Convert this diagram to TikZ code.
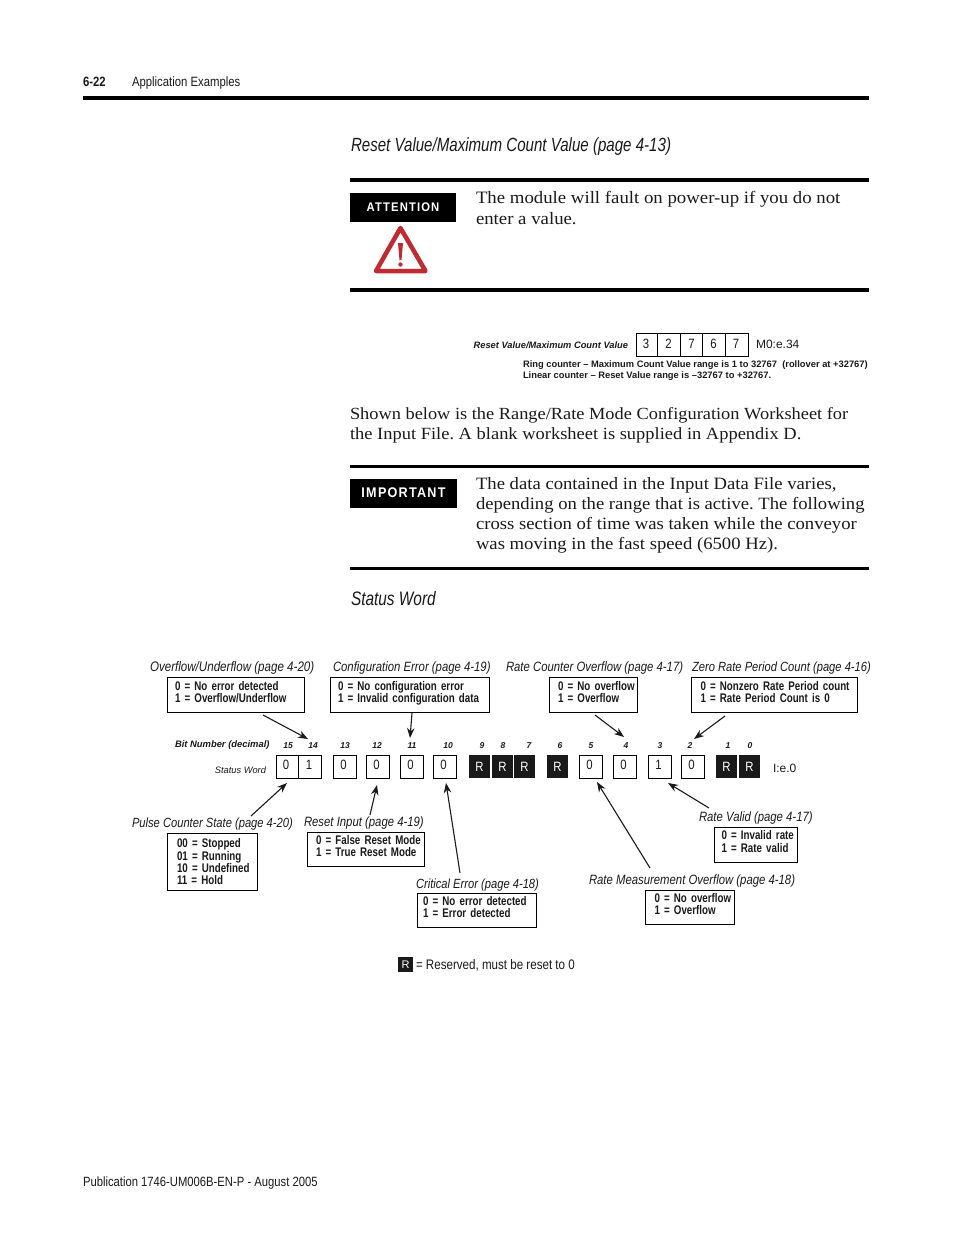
\documentclass[tikz,border=0pt]{standalone}
\usepackage{fontspec}
\usetikzlibrary{arrows.meta}
\setmainfont{Liberation Serif}
\newfontfamily\narrowf[FakeStretch=0.84]{Liberation Sans}
\newfontfamily\headf[FakeStretch=0.79]{Liberation Sans}
\newfontfamily\statef[FakeStretch=0.78]{Liberation Sans}
\newfontfamily\plainf{Liberation Sans}
\newfontfamily\bodyf[FakeStretch=1.08]{Liberation Serif}
\newfontfamily\tagf[FakeStretch=0.9,LetterSpace=9]{Liberation Sans}
\definecolor{warnred}{HTML}{BE2B32}
\definecolor{inkblack}{HTML}{1A1A1A}
\tikzset{
  x=1pt,y=-1pt,
  txt/.style={inner sep=0pt,outer sep=0pt,anchor=base west,text=inkblack},
  txtr/.style={inner sep=0pt,outer sep=0pt,anchor=base east,text=inkblack},
  body/.style={txt,font=\bodyf\frenchspacing\fontsize{17.3}{20}\selectfont},
  title/.style={txt,font=\narrowf\itshape\fontsize{13.5}{14}\selectfont},
  bighead/.style={txt,font=\headf\itshape\fontsize{19.1}{20}\selectfont},
  bitn/.style={inner sep=0pt,anchor=base,text=inkblack,font=\plainf\bfseries\itshape\fontsize{8.5}{9}\selectfont},
  cellv/.style={inner sep=0pt,anchor=base,text=inkblack,font=\narrowf\fontsize{13.5}{14}\selectfont},
  rule/.style={fill=black,draw=none},
  cellbox/.style={draw=black,line width=1pt,fill=white},
  rcell/.style={fill=inkblack,draw=none,inner sep=0pt,outer sep=0pt,anchor=north west,text=white,font=\narrowf\fontsize{13.5}{14}\selectfont},
  statebox/.style={draw=black,line width=.8pt,outer sep=0pt,anchor=north west,align=left,text=inkblack,inner ysep=0pt,font=\statef\bfseries\fontsize{12.5}{12.2}\selectfont},
  pointer/.style={draw=inkblack,line width=1.1pt,-{Stealth[length=10pt,width=7.5pt]}},
  tag/.style={fill=black,text=white,inner sep=0pt,outer sep=0pt,anchor=north west,font=\tagf\bfseries\fontsize{14}{14}\selectfont},
}
\newcommand{\lowdepth}{\rule[-6pt]{0pt}{6pt}}
% name x1 y1 x2 y2 inset text
\newcommand{\statenode}[7]{%
  \pgfmathsetmacro{\boxh}{#5-#3}\pgfmathsetmacro{\boxt}{#4-#2-2*#6}%
  \node[statebox,inner xsep=#6pt,text width=\boxt pt,minimum height=\boxh pt] (#1) at (#2,#3) {#7};}
% name x value
\newcommand{\bitcell}[3]{%
  \node[cellbox,minimum width=23pt,minimum height=23pt,inner sep=0pt,anchor=north west] (#1) at (#2,755) {};
  \node[cellv] (#1v) at (#2+10.5,769.5) {#3};}
\newcommand{\rbit}[2]{%
  \node[rcell,minimum width=21pt,minimum height=23pt] (#1) at (#2,755) {\raisebox{-1pt}{R}};}
\newcommand{\bitnum}[2]{\node[bitn] (n#2) at (#1,748) {#2};}
\begin{document}
\begin{tikzpicture}
\useasboundingbox[fill=white] (0,0) rectangle (954,1235);
% header
\node[txt,font=\narrowf\bfseries\fontsize{13.5}{14}\selectfont] (pg) at (83,86) {6-22};
\node[txt,font=\narrowf\fontsize{13.5}{14}\selectfont] (hd) at (132,86) {Application Examples};
\fill[rule] (83,96) rectangle (869,100);
\node[bighead] (h1) at (351,151) {Reset Value/Maximum Count Value (page 4-13)};
% attention
\fill[rule] (350,178) rectangle (869,182);
\node[tag,minimum width=106pt,minimum height=29pt,font=\tagf\bfseries\fontsize{12.5}{14}\selectfont] (att) at (350,193) {\raisebox{.8pt}{ATTENTION}};
\draw[warnred,line width=4.5pt,line join=round,fill=white] (400.5,228) -- (376,271) -- (425.5,271) -- cycle;
\fill[warnred] (398,243) -- (403,243) -- (401.5,260) -- (399.5,260) -- cycle;
\fill[warnred] (400.5,264.5) circle (2.2);
\node[body,font=\bodyf\frenchspacing\fontsize{17.4}{20}\selectfont] (a1) at (476,203) {The module will fault on power-up if you do not};
\node[body,font=\bodyf\frenchspacing\fontsize{17.4}{20}\selectfont] (a2) at (476,224) {enter a value.};
\fill[rule] (350,288) rectangle (869,292);
% reset value
\node[txtr,font=\plainf\bfseries\itshape\fontsize{9.3}{9}\selectfont] (rv) at (628,348) {Reset Value/Maximum Count Value};
\node[cellbox,line width=1pt,minimum width=112pt,minimum height=23pt,inner sep=0pt,anchor=north west] (rvb) at (636,333) {};
\draw[black,line width=.8pt] (657.5,333) -- (657.5,356) (680,333) -- (680,356) (702.5,333) -- (702.5,356) (725,333) -- (725,356);
\foreach \n/\x/\d in {a/646/3,b/668.5/2,c/691.5/7,d/713.5/6,e/736/7}{\node[cellv] (rv\n) at (\x,348.5) {\d};}
\node[txt,font=\plainf\fontsize{12}{14}\selectfont] (m0) at (756,348) {M0:e.34};
\node[txt,font=\plainf\bfseries\fontsize{9.35}{9}\selectfont] (r1) at (523,367.5) {Ring counter – Maximum Count Value range is 1 to 32767\ \ (rollover at +32767)};
\node[txt,font=\plainf\bfseries\fontsize{9.35}{9}\selectfont] (r2) at (523,378) {Linear counter – Reset Value range is –32767 to +32767.};
% body
\node[body,font=\bodyf\frenchspacing\fontsize{17}{20}\selectfont] (b1) at (350,419) {Shown below is the Range/Rate Mode Configuration Worksheet for};
\node[body,font=\bodyf\frenchspacing\fontsize{17.1}{20}\selectfont] (b2) at (350,439) {the Input File. A blank worksheet is supplied in Appendix D.};
% important
\fill[rule] (350,465) rectangle (869,468);
\node[tag,minimum width=107pt,minimum height=29pt] (imp) at (350,479) {\raisebox{1.5pt}{IMPORTANT}};
\node[body] (i1) at (476,489) {The data contained in the Input Data File varies,};
\node[body,font=\bodyf\frenchspacing\fontsize{17.25}{20}\selectfont] (i2) at (476,509) {depending on the range that is active. The following};
\node[body] (i3) at (476,529) {cross section of time was taken while the conveyor};
\node[body] (i4) at (476,549) {was moving in the fast speed (6500 Hz).};
\fill[rule] (350,567) rectangle (869,570);
\node[bighead,font=\headf\itshape\fontsize{19.5}{20}\selectfont] (h2) at (351,605) {Status Word};
% titles
\node[title,font=\narrowf\itshape\fontsize{13.8}{14}\selectfont] (t1) at (150,671) {Overflow/Underflow (page 4-20)};
\node[title] (t2) at (333,671) {Configuration Error (page 4-19)};
\node[title] (t3) at (506,671) {Rate Counter Overflow (page 4-17)};
\node[title,font=\narrowf\itshape\fontsize{13.3}{14}\selectfont] (t4) at (692,671) {Zero Rate Period Count (page 4-16)};
\node[title,font=\narrowf\itshape\fontsize{13.3}{14}\selectfont] (t5) at (132,827) {Pulse Counter State (page 4-20)};
\node[title] (t6) at (304,826) {Reset Input (page 4-19)};
\node[title,font=\narrowf\itshape\fontsize{13.3}{14}\selectfont] (t7) at (416,888) {Critical Error (page 4-18)};
\node[title] (t8) at (589,884) {Rate Measurement Overflow (page 4-18)};
\node[title] (t9) at (699,821) {Rate Valid (page 4-17)};
% state boxes
\statenode{s1}{167}{677}{304}{712.5}{8}{\mbox{0 = No error detected}\\\mbox{1 = Overflow/Underflow}\lowdepth}
\statenode{s2}{330}{677}{489.5}{712.5}{8}{\mbox{0 = No configuration error}\\\mbox{1 = Invalid configuration data}\lowdepth}
\statenode{s3}{549}{677}{637}{712.5}{9}{\mbox{0 = No overflow}\\\mbox{1 = Overflow}\lowdepth}
\statenode{s4}{691.5}{677}{857}{712.5}{9}{\mbox{0 = Nonzero Rate Period count}\\\mbox{1 = Rate Period Count is 0}\lowdepth}
\statenode{s5}{167}{833}{257}{890.5}{10}{\mbox{00 = Stopped}\\\mbox{01 = Running}\\\mbox{10 = Undefined}\\\mbox{11 = Hold}}
\statenode{s6}{307}{832.5}{424}{866}{9}{\mbox{0 = False Reset Mode}\\\mbox{1 = True Reset Mode}\lowdepth}
\statenode{s7}{417}{893}{536}{927.5}{6}{\mbox{0 = No error detected}\\\mbox{1 = Error detected}\lowdepth}
\statenode{s8}{714.5}{827}{797}{862}{7}{\mbox{0 = Invalid rate}\\\mbox{1 = Rate valid}\lowdepth}
\statenode{s9}{645.5}{890}{734}{924.5}{9}{\mbox{0 = No overflow}\\\mbox{1 = Overflow}\lowdepth}
% bit row labels
\node[txt,font=\plainf\bfseries\itshape\fontsize{9.4}{9}\selectfont] (bn) at (175,747) {Bit Number (decimal)};
\node[txtr,font=\plainf\itshape\fontsize{9.3}{10}\selectfont] (sw) at (266,773) {Status Word};
\bitnum{288}{15}\bitnum{313}{14}\bitnum{345}{13}\bitnum{377}{12}\bitnum{412}{11}\bitnum{448}{10}
\bitnum{482}{9}\bitnum{503}{8}\bitnum{529}{7}\bitnum{560}{6}\bitnum{591}{5}\bitnum{626}{4}
\bitnum{660}{3}\bitnum{690}{2}\bitnum{728}{1}\bitnum{750}{0}
% cells
\node[cellbox,minimum width=45pt,minimum height=23pt,inner sep=0pt,anchor=north west] (c15) at (276,755) {};
\draw[black,line width=.7pt] (298,755) -- (298,778);
\node[cellv] (c15v) at (286,769.5) {0};
\node[cellv] (c14v) at (309,769.5) {1};
\bitcell{c13}{333}{0}\bitcell{c12}{366}{0}\bitcell{c11}{400}{0}\bitcell{c10}{433}{0}
\rbit{c9}{469}\rbit{c8}{492}\rbit{c7}{514}\rbit{c6}{547}
\bitcell{c5}{579}{0}\bitcell{c4}{613}{0}\bitcell{c3}{648}{1}\bitcell{c2}{681}{0}
\rbit{c1}{716}\rbit{c0}{739}
\node[txt,font=\plainf\fontsize{12}{14}\selectfont] (ie) at (773,772) {I:e.0};
% connector ends
\coordinate (e1) at (308,739);
\coordinate (e2) at (410,738);
\coordinate (e3) at (624,737);
\coordinate (e4) at (694,739);
\coordinate (f1) at (263,715);
\coordinate (f2) at (412,713);
\coordinate (f3) at (595,715);
\coordinate (f4) at (725,716);
\coordinate (g5) at (251,816);
\coordinate (g6) at (370,815);
\coordinate (g7) at (460,873);
\coordinate (g8) at (650,868);
\coordinate (g9) at (709,808);
\coordinate (h5) at (287,783);
\coordinate (h6) at (377,785);
\coordinate (h7) at (446,783);
\coordinate (h8) at (597,782);
\coordinate (h9) at (668,783);
\draw[pointer] (f1) -- (e1);
\draw[pointer] (f2) -- (e2);
\draw[pointer] (f3) -- (e3);
\draw[pointer] (f4) -- (e4);
\draw[pointer] (g5) -- (h5);
\draw[pointer] (g6) -- (h6);
\draw[pointer] (g7) -- (h7);
\draw[pointer] (g8) -- (h8);
\draw[pointer] (g9) -- (h9);
% legend
\node[rcell,minimum width=15pt,minimum height=15pt,font=\plainf\fontsize{11}{12}\selectfont] (lg) at (398,957) {R};
\node[txt,font=\narrowf\fontsize{13.8}{14}\selectfont] (lt) at (416,969) {= Reserved, must be reset to 0};
% footer
\node[txt,font=\narrowf\fontsize{13.4}{14}\selectfont] (ft) at (83,1186) {Publication 1746-UM006B-EN-P - August 2005};
\end{tikzpicture}
\end{document}
